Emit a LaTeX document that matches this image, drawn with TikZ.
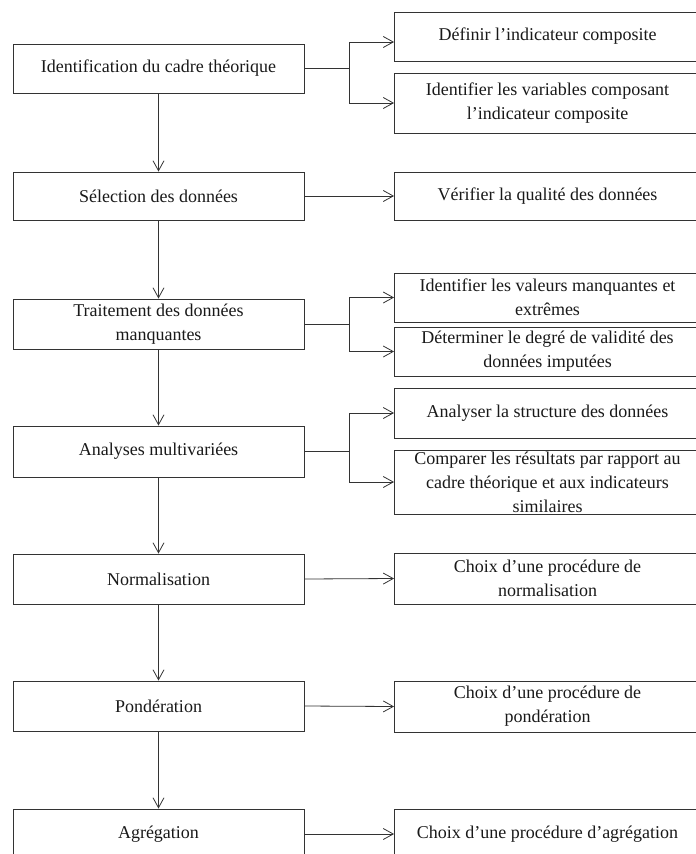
\documentclass[tikz,border=0pt]{standalone}
\usepackage{fontspec}
\setmainfont{Liberation Serif}
\usetikzlibrary{arrows.meta}
\begin{document}
\begin{tikzpicture}[x=1pt,y=-1pt,
  box/.style={draw=black!80, line width=0.9pt, rectangle, inner sep=0pt, align=center,
    font=\fontsize{18}{24}\selectfont, text=black!90},
  lbox/.style={box, minimum width=291pt},
  rbox/.style={box, minimum width=306pt},
  link/.style={draw=black!80, line width=0.8pt},
  arr/.style={link, -{Straight Barb[length=10pt,width=11pt]}}]
\useasboundingbox (0,0) rectangle (696,854);
\clip (0,0) rectangle (696,854);

% left column
\node[lbox, minimum height=49pt] (L1) at (158.5,68.5) {Identification du cadre théorique};
\node[lbox, minimum height=48pt] (L2) at (158.5,196) {Sélection des données};
\node[lbox, minimum height=50pt] (L3) at (158.5,324) {Traitement des données\\manquantes};
\node[lbox, minimum height=51pt] (L4) at (158.5,451.5) {Analyses multivariées};
\node[lbox, minimum height=50pt] (L5) at (158.5,579) {Normalisation};
\node[lbox, minimum height=50pt] (L6) at (158.5,706) {Pondération};
\node[lbox, minimum height=50pt] (L7) at (158.5,834) {Agrégation};

% right column
\node[rbox, minimum height=49pt] (R1) at (547.5,36.5) {Définir l’indicateur composite};
\node[rbox, minimum height=60pt] (R2) at (547.5,103) {Identifier les variables composant\\l’indicateur composite};
\node[rbox, minimum height=48pt] (R3) at (547.5,196) {Vérifier la qualité des données};
\node[rbox, minimum height=49pt] (R4) at (547.5,297.5) {Identifier les valeurs manquantes et\\extrêmes};
\node[rbox, minimum height=49pt] (R5) at (547.5,351.5) {Déterminer le degré de validité des\\données imputées};
\node[rbox, minimum height=50pt] (R6) at (547.5,413) {Analyser la structure des données};
\node[rbox, minimum height=64pt] (R7) at (547.5,482) {Comparer les résultats par rapport au\\cadre théorique et aux indicateurs\\similaires};
\node[rbox, minimum height=51pt] (R8) at (547.5,578.5) {Choix d’une procédure de\\normalisation};
\node[rbox, minimum height=51pt] (R9) at (547.5,706.5) {Choix d’une procédure de\\pondération};
\node[rbox, minimum height=50pt] (R10) at (547.5,834) {Choix d’une procédure d’agrégation};

% junctions
\coordinate (J1) at (349,68.5);
\coordinate (J3) at (349,324);
\coordinate (J4) at (349,451.5);

% vertical flow
\draw[arr] (L1.south) -- (L2.north);
\draw[arr] (L2.south) -- (L3.north);
\draw[arr] (L3.south) -- (L4.north);
\draw[arr] (L4.south) -- (L5.north);
\draw[arr] (L5.south) -- (L6.north);
\draw[arr] (L6.south) -- (L7.north);

% branches
\draw[link, line width=1.4pt] (L1.east) -- (J1);
\draw[arr] (J1) |- ([yshift=-5.5pt]R1.west);
\draw[arr] (J1) |- (R2.west);
\draw[arr] (L2.east) -- (R3.west);
\draw[link] (L3.east) -- (J3);
\draw[arr] (J3) |- (R4.west);
\draw[arr] (J3) |- (R5.west);
\draw[link] (L4.east) -- (J4);
\draw[arr] (J4) |- (R6.west);
\draw[arr] (J4) |- (R7.west);
\draw[arr] (L5.east) -- (R8.west);
\draw[arr] (L6.east) -- (R9.west);
\draw[arr] (L7.east) -- (R10.west);
\end{tikzpicture}
\end{document}
